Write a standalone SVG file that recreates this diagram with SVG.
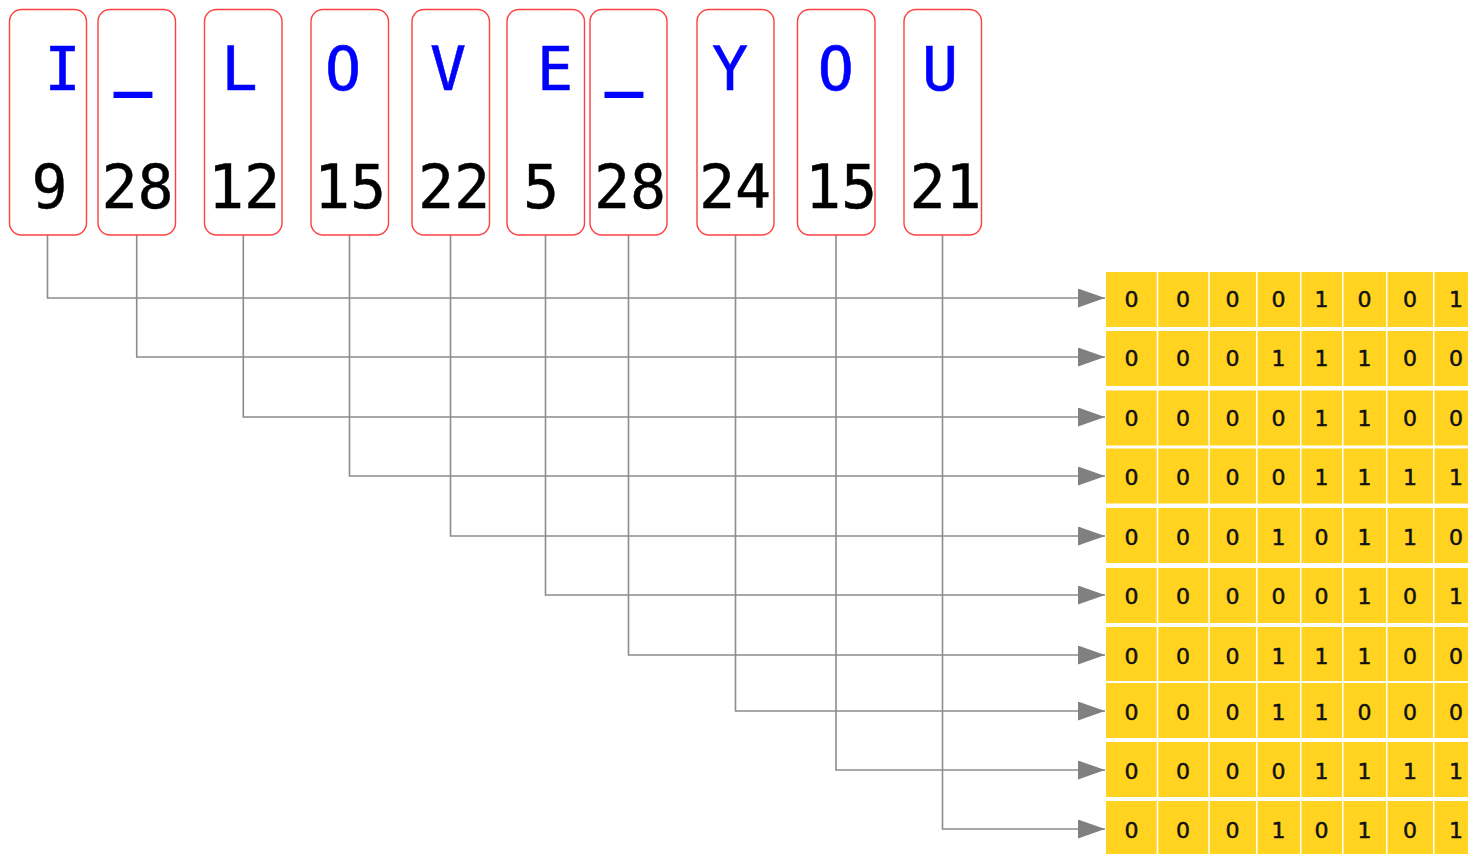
<svg xmlns="http://www.w3.org/2000/svg" width="1468" height="854" viewBox="0 0 1468 854">
<style>
.box{fill:#fff;stroke:#ff4040;stroke-width:1.4}
.let{font-family:"DejaVu Sans Mono",monospace;font-size:60px;fill:#0000ff;stroke:#0000ff;stroke-width:0.6;text-anchor:middle}
.us{font-family:"DejaVu Sans Mono",monospace;font-size:58px;fill:#0000ff;stroke:#0000ff;stroke-width:4;text-anchor:middle}
.num{font-family:"DejaVu Sans Mono",monospace;font-size:60px;fill:#000;stroke:#000;stroke-width:0.4;text-anchor:middle}
.cell{fill:#ffd320}
.bit{font-family:"DejaVu Sans",sans-serif;font-size:22px;fill:#111;stroke:#111;stroke-width:0.5;text-anchor:middle}
.con{fill:none;stroke:#8c8c8c;stroke-width:1.6;marker-end:url(#arr)}
</style>
<defs>
<marker id="arr" markerUnits="userSpaceOnUse" markerWidth="28" markerHeight="20" refX="27" refY="9.5" orient="auto">
<path d="M0,0 L27,9.5 L0,19 z" fill="#808080"/>
</marker>
</defs>
<rect width="1468" height="854" fill="#fff"/>
<g id="connectors">
<polyline class="con" points="47.5,235 47.5,298 1105,298"/>
<polyline class="con" points="136.7,235 136.7,357 1105,357"/>
<polyline class="con" points="243.3,235 243.3,417 1105,417"/>
<polyline class="con" points="349.5,235 349.5,476 1105,476"/>
<polyline class="con" points="450.5,235 450.5,536 1105,536"/>
<polyline class="con" points="545.5,235 545.5,595 1105,595"/>
<polyline class="con" points="628.5,235 628.5,655 1105,655"/>
<polyline class="con" points="735.5,235 735.5,711 1105,711"/>
<polyline class="con" points="836,235 836,770 1105,770"/>
<polyline class="con" points="942.5,235 942.5,829 1105,829"/>
</g>
<g id="box-I"><rect class="box" x="9.5" y="9.5" width="77" height="225.5" rx="12"/><text class="let" x="62.5" y="90">I</text><text class="num" x="49.5" y="208">9</text></g>
<g id="box-us1"><rect class="box" x="98" y="9.5" width="77.5" height="225.5" rx="12"/><text class="us" x="133" y="82">_</text><text class="num" x="137.5" y="208">28</text></g>
<g id="box-L"><rect class="box" x="204.5" y="9.5" width="77.5" height="225.5" rx="12"/><text class="let" x="239.5" y="90">L</text><text class="num" x="244" y="208">12</text></g>
<g id="box-O1"><rect class="box" x="311" y="9.5" width="77.5" height="225.5" rx="12"/><text class="let" x="343" y="90">O</text><text class="num" x="350" y="208">15</text></g>
<g id="box-V"><rect class="box" x="412" y="9.5" width="77.5" height="225.5" rx="12"/><text class="let" x="448" y="90">V</text><text class="num" x="454" y="208">22</text></g>
<g id="box-E"><rect class="box" x="507" y="9.5" width="77.5" height="225.5" rx="12"/><text class="let" x="555" y="90">E</text><text class="num" x="541" y="208">5</text></g>
<g id="box-us2"><rect class="box" x="590" y="9.5" width="77" height="225.5" rx="12"/><text class="us" x="624" y="82">_</text><text class="num" x="630" y="208">28</text></g>
<g id="box-Y"><rect class="box" x="697" y="9.5" width="77" height="225.5" rx="12"/><text class="let" x="730" y="90">Y</text><text class="num" x="735" y="208">24</text></g>
<g id="box-O2"><rect class="box" x="797.5" y="9.5" width="77.5" height="225.5" rx="12"/><text class="let" x="835.7" y="90">O</text><text class="num" x="841" y="208">15</text></g>
<g id="box-U"><rect class="box" x="904" y="9.5" width="77.5" height="225.5" rx="12"/><text class="let" x="940" y="90">U</text><text class="num" x="945.5" y="208">21</text></g>
<g id="grid">
<g id="row1">
<rect class="cell" x="1106" y="272" width="50.7" height="55"/><rect class="cell" x="1158.3" y="272" width="50" height="55"/><rect class="cell" x="1209.8" y="272" width="46.2" height="55"/><rect class="cell" x="1257.5" y="272" width="42.5" height="55"/><rect class="cell" x="1301.5" y="272" width="40.5" height="55"/><rect class="cell" x="1343.5" y="272" width="42.5" height="55"/><rect class="cell" x="1387.5" y="272" width="45.5" height="55"/><rect class="cell" x="1434.5" y="272" width="34" height="55"/>
<text class="bit" y="306.5"><tspan x="1131.5">0</tspan><tspan x="1183">0</tspan><tspan x="1232.5">0</tspan><tspan x="1278.5">0</tspan><tspan x="1321.5">1</tspan><tspan x="1364.5">0</tspan><tspan x="1410">0</tspan><tspan x="1456">1</tspan></text>
</g>
<g id="row2">
<rect class="cell" x="1106" y="331" width="50.7" height="55"/><rect class="cell" x="1158.3" y="331" width="50" height="55"/><rect class="cell" x="1209.8" y="331" width="46.2" height="55"/><rect class="cell" x="1257.5" y="331" width="42.5" height="55"/><rect class="cell" x="1301.5" y="331" width="40.5" height="55"/><rect class="cell" x="1343.5" y="331" width="42.5" height="55"/><rect class="cell" x="1387.5" y="331" width="45.5" height="55"/><rect class="cell" x="1434.5" y="331" width="34" height="55"/>
<text class="bit" y="365.5"><tspan x="1131.5">0</tspan><tspan x="1183">0</tspan><tspan x="1232.5">0</tspan><tspan x="1278.5">1</tspan><tspan x="1321.5">1</tspan><tspan x="1364.5">1</tspan><tspan x="1410">0</tspan><tspan x="1456">0</tspan></text>
</g>
<g id="row3">
<rect class="cell" x="1106" y="390.5" width="50.7" height="55"/><rect class="cell" x="1158.3" y="390.5" width="50" height="55"/><rect class="cell" x="1209.8" y="390.5" width="46.2" height="55"/><rect class="cell" x="1257.5" y="390.5" width="42.5" height="55"/><rect class="cell" x="1301.5" y="390.5" width="40.5" height="55"/><rect class="cell" x="1343.5" y="390.5" width="42.5" height="55"/><rect class="cell" x="1387.5" y="390.5" width="45.5" height="55"/><rect class="cell" x="1434.5" y="390.5" width="34" height="55"/>
<text class="bit" y="425.5"><tspan x="1131.5">0</tspan><tspan x="1183">0</tspan><tspan x="1232.5">0</tspan><tspan x="1278.5">0</tspan><tspan x="1321.5">1</tspan><tspan x="1364.5">1</tspan><tspan x="1410">0</tspan><tspan x="1456">0</tspan></text>
</g>
<g id="row4">
<rect class="cell" x="1106" y="448.5" width="50.7" height="55"/><rect class="cell" x="1158.3" y="448.5" width="50" height="55"/><rect class="cell" x="1209.8" y="448.5" width="46.2" height="55"/><rect class="cell" x="1257.5" y="448.5" width="42.5" height="55"/><rect class="cell" x="1301.5" y="448.5" width="40.5" height="55"/><rect class="cell" x="1343.5" y="448.5" width="42.5" height="55"/><rect class="cell" x="1387.5" y="448.5" width="45.5" height="55"/><rect class="cell" x="1434.5" y="448.5" width="34" height="55"/>
<text class="bit" y="484.5"><tspan x="1131.5">0</tspan><tspan x="1183">0</tspan><tspan x="1232.5">0</tspan><tspan x="1278.5">0</tspan><tspan x="1321.5">1</tspan><tspan x="1364.5">1</tspan><tspan x="1410">1</tspan><tspan x="1456">1</tspan></text>
</g>
<g id="row5">
<rect class="cell" x="1106" y="508" width="50.7" height="55"/><rect class="cell" x="1158.3" y="508" width="50" height="55"/><rect class="cell" x="1209.8" y="508" width="46.2" height="55"/><rect class="cell" x="1257.5" y="508" width="42.5" height="55"/><rect class="cell" x="1301.5" y="508" width="40.5" height="55"/><rect class="cell" x="1343.5" y="508" width="42.5" height="55"/><rect class="cell" x="1387.5" y="508" width="45.5" height="55"/><rect class="cell" x="1434.5" y="508" width="34" height="55"/>
<text class="bit" y="544.5"><tspan x="1131.5">0</tspan><tspan x="1183">0</tspan><tspan x="1232.5">0</tspan><tspan x="1278.5">1</tspan><tspan x="1321.5">0</tspan><tspan x="1364.5">1</tspan><tspan x="1410">1</tspan><tspan x="1456">0</tspan></text>
</g>
<g id="row6">
<rect class="cell" x="1106" y="568" width="50.7" height="55"/><rect class="cell" x="1158.3" y="568" width="50" height="55"/><rect class="cell" x="1209.8" y="568" width="46.2" height="55"/><rect class="cell" x="1257.5" y="568" width="42.5" height="55"/><rect class="cell" x="1301.5" y="568" width="40.5" height="55"/><rect class="cell" x="1343.5" y="568" width="42.5" height="55"/><rect class="cell" x="1387.5" y="568" width="45.5" height="55"/><rect class="cell" x="1434.5" y="568" width="34" height="55"/>
<text class="bit" y="603.5"><tspan x="1131.5">0</tspan><tspan x="1183">0</tspan><tspan x="1232.5">0</tspan><tspan x="1278.5">0</tspan><tspan x="1321.5">0</tspan><tspan x="1364.5">1</tspan><tspan x="1410">0</tspan><tspan x="1456">1</tspan></text>
</g>
<g id="row7">
<rect class="cell" x="1106" y="627" width="50.7" height="54"/><rect class="cell" x="1158.3" y="627" width="50" height="54"/><rect class="cell" x="1209.8" y="627" width="46.2" height="54"/><rect class="cell" x="1257.5" y="627" width="42.5" height="54"/><rect class="cell" x="1301.5" y="627" width="40.5" height="54"/><rect class="cell" x="1343.5" y="627" width="42.5" height="54"/><rect class="cell" x="1387.5" y="627" width="45.5" height="54"/><rect class="cell" x="1434.5" y="627" width="34" height="54"/>
<text class="bit" y="663.5"><tspan x="1131.5">0</tspan><tspan x="1183">0</tspan><tspan x="1232.5">0</tspan><tspan x="1278.5">1</tspan><tspan x="1321.5">1</tspan><tspan x="1364.5">1</tspan><tspan x="1410">0</tspan><tspan x="1456">0</tspan></text>
</g>
<g id="row8">
<rect class="cell" x="1106" y="683" width="50.7" height="55"/><rect class="cell" x="1158.3" y="683" width="50" height="55"/><rect class="cell" x="1209.8" y="683" width="46.2" height="55"/><rect class="cell" x="1257.5" y="683" width="42.5" height="55"/><rect class="cell" x="1301.5" y="683" width="40.5" height="55"/><rect class="cell" x="1343.5" y="683" width="42.5" height="55"/><rect class="cell" x="1387.5" y="683" width="45.5" height="55"/><rect class="cell" x="1434.5" y="683" width="34" height="55"/>
<text class="bit" y="719.5"><tspan x="1131.5">0</tspan><tspan x="1183">0</tspan><tspan x="1232.5">0</tspan><tspan x="1278.5">1</tspan><tspan x="1321.5">1</tspan><tspan x="1364.5">0</tspan><tspan x="1410">0</tspan><tspan x="1456">0</tspan></text>
</g>
<g id="row9">
<rect class="cell" x="1106" y="742" width="50.7" height="55"/><rect class="cell" x="1158.3" y="742" width="50" height="55"/><rect class="cell" x="1209.8" y="742" width="46.2" height="55"/><rect class="cell" x="1257.5" y="742" width="42.5" height="55"/><rect class="cell" x="1301.5" y="742" width="40.5" height="55"/><rect class="cell" x="1343.5" y="742" width="42.5" height="55"/><rect class="cell" x="1387.5" y="742" width="45.5" height="55"/><rect class="cell" x="1434.5" y="742" width="34" height="55"/>
<text class="bit" y="778.5"><tspan x="1131.5">0</tspan><tspan x="1183">0</tspan><tspan x="1232.5">0</tspan><tspan x="1278.5">0</tspan><tspan x="1321.5">1</tspan><tspan x="1364.5">1</tspan><tspan x="1410">1</tspan><tspan x="1456">1</tspan></text>
</g>
<g id="row10">
<rect class="cell" x="1106" y="801" width="50.7" height="55"/><rect class="cell" x="1158.3" y="801" width="50" height="55"/><rect class="cell" x="1209.8" y="801" width="46.2" height="55"/><rect class="cell" x="1257.5" y="801" width="42.5" height="55"/><rect class="cell" x="1301.5" y="801" width="40.5" height="55"/><rect class="cell" x="1343.5" y="801" width="42.5" height="55"/><rect class="cell" x="1387.5" y="801" width="45.5" height="55"/><rect class="cell" x="1434.5" y="801" width="34" height="55"/>
<text class="bit" y="837.5"><tspan x="1131.5">0</tspan><tspan x="1183">0</tspan><tspan x="1232.5">0</tspan><tspan x="1278.5">1</tspan><tspan x="1321.5">0</tspan><tspan x="1364.5">1</tspan><tspan x="1410">0</tspan><tspan x="1456">1</tspan></text>
</g>
</g>
</svg>
